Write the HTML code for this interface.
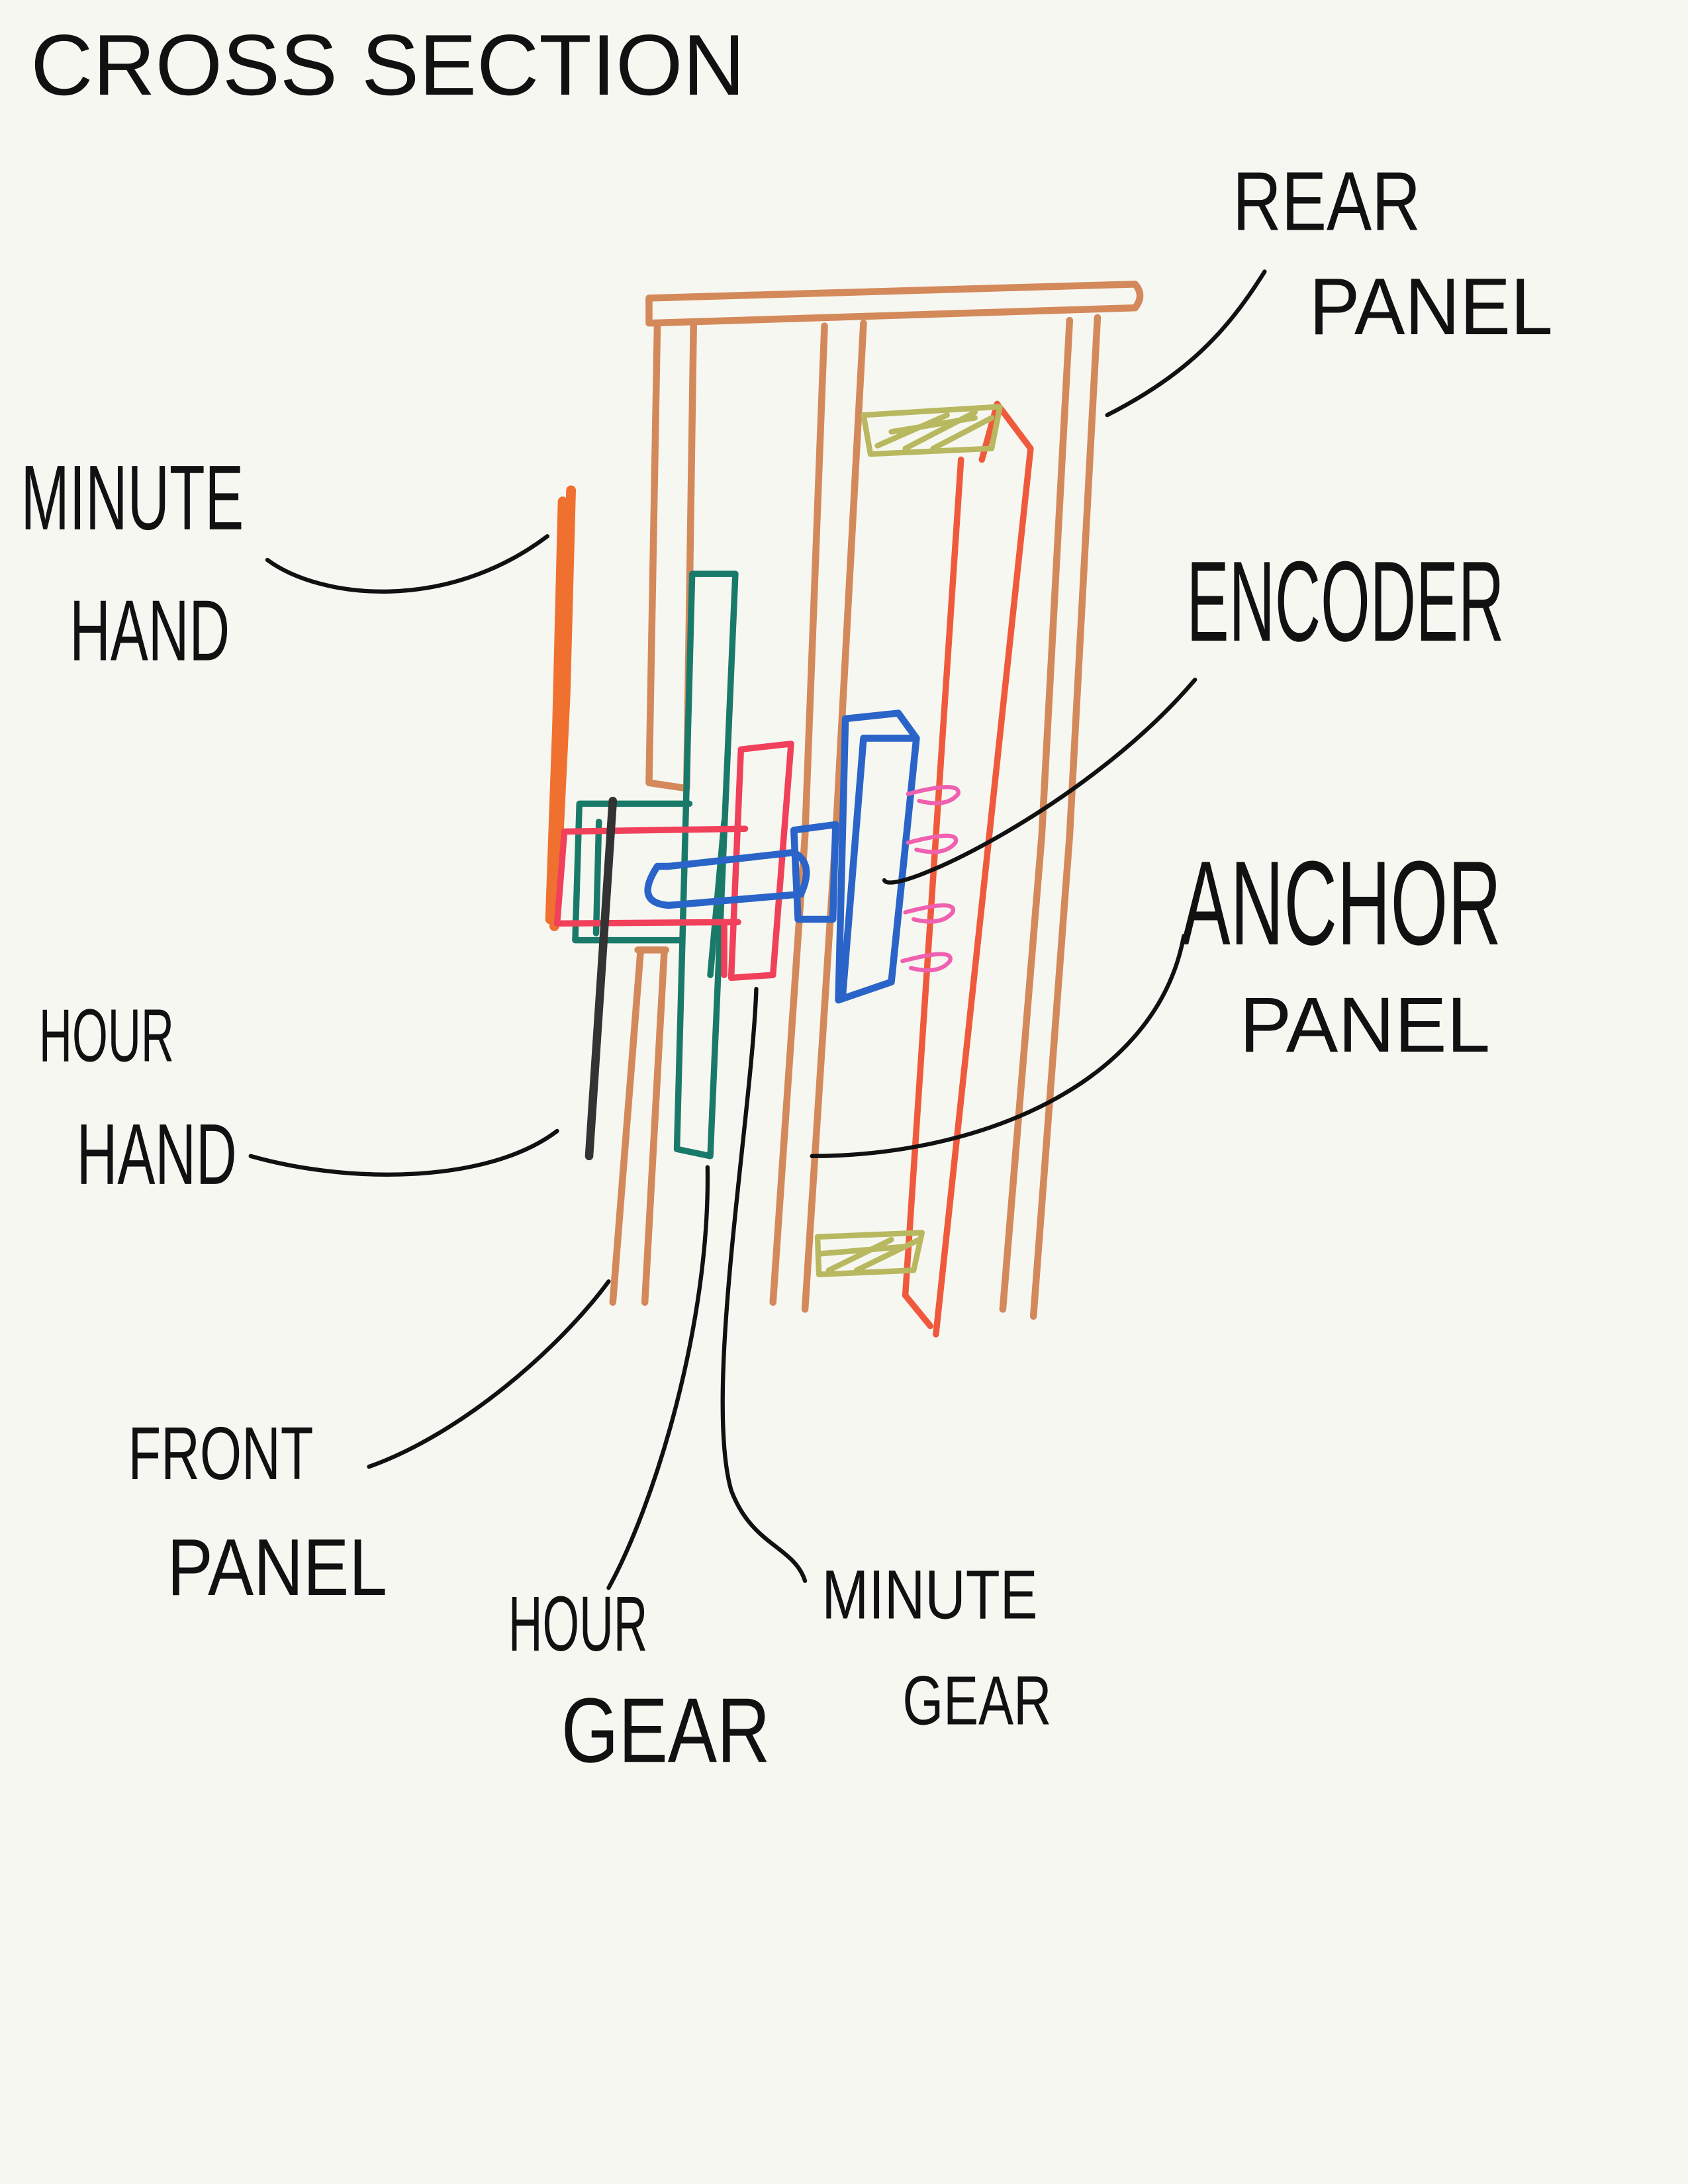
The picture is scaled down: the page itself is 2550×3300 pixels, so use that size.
<!DOCTYPE html>
<html><head><meta charset="utf-8"><style>
html,body{margin:0;padding:0;background:#f7f7f2;}
svg{display:block}
text{font-family:"Liberation Sans Narrow","Liberation Sans",sans-serif;fill:#111;}
</style></head><body>
<svg width="2550" height="3300" viewBox="0 0 1212 1568" xmlns="http://www.w3.org/2000/svg" preserveAspectRatio="none">
<rect width="1212" height="1568" fill="#f7f7f2"/>
<g fill="none" stroke-linecap="round" stroke-linejoin="round">
<!-- rear panel -->
<g stroke="#d4895a" stroke-width="5">
<path d="M466 214 L815 204 Q822 212 815 221 L466 232 Z"/>
<path d="M472 232 L466 562 L493 566 L498 232"/>
<path d="M592 234 L578 600 L555 935"/>
<path d="M620 232 L600 600 L578 940"/>
<path d="M768 230 L748 600 L720 940"/>
<path d="M788 228 L768 600 L742 945"/>
<path d="M460 682 L440 935"/>
<path d="M477 682 L463 935"/>
<path d="M458 682 L478 682"/>
</g>
<!-- green hour gear -->
<g stroke="#1a7a6a" stroke-width="4.5">
<path d="M497 412 L528 412 L510 830 L486 825 L497 412 Z"/>
<path d="M416 577 L495 577 M416 577 L413 675 L490 675 M430 590 L428 670"/>
<path d="M520 590 L510 700"/>
</g>
<!-- minute hand -->
<path d="M410 352 L406 500 L398 665 M404 360 L400 520 L395 660" stroke="#f07030" stroke-width="7"/>
<!-- red minute gear -->
<g stroke="#f0405a" stroke-width="4.5">
<path d="M405 597 L535 595 M400 663 L530 662 M405 600 L400 663"/>
<path d="M532 538 L568 534 L555 700 L525 702 L532 538 Z"/>
<path d="M520 662 L520 700"/>
</g>
<!-- blue shaft & encoder -->
<g stroke="#2a64c8" stroke-width="5">
<path d="M472 622 Q455 648 480 650 L575 642 Q585 620 570 612 L480 622 Z"/>
<path d="M570 596 L600 592 L598 660 L573 660 Z"/>
<path d="M607 516 L645 512 L658 530 L640 705 L602 718 L607 516 Z M620 530 L658 530 M620 530 L605 715"/>
</g>
<!-- anchor panel -->
<g stroke="#f05a3c" stroke-width="4.5">
<path d="M716 290 L740 322 L672 958"/>
<path d="M690 330 L650 930 L668 952"/>
<path d="M716 290 L705 330"/>
</g>
<!-- springs -->
<g stroke="#f060b0" stroke-width="3">
<path d="M652 570 Q690 560 688 570 Q680 580 660 575"/>
<path d="M652 605 Q690 595 686 605 Q678 615 658 610"/>
<path d="M650 655 Q688 645 684 655 Q676 665 656 660"/>
<path d="M648 690 Q686 680 682 690 Q674 700 654 695"/>
</g>
<!-- olive hatches -->
<g stroke="#b8b860" stroke-width="4">
<path d="M620 298 L718 292 L712 322 L625 326 Z"/>
<path d="M630 320 L680 298 M650 322 L700 296 M670 322 L712 300 M640 310 L700 300"/>
<path d="M587 888 L662 885 L656 912 L588 915 Z"/>
<path d="M595 912 L640 890 M615 912 L660 890 M590 900 L650 895"/>
</g>
<!-- hour hand -->
<path d="M440 575 L423 830" stroke="#333" stroke-width="6"/>
<!-- leader lines -->
<g stroke="#111" stroke-width="3">
<path d="M795 298 C850 270 880 240 908 195"/>
<path d="M192 402 C230 430 320 440 393 385"/>
<path d="M635 632 C640 645 780 580 858 488"/>
<path d="M583 830 C700 830 830 780 850 672"/>
<path d="M180 830 C250 850 350 850 400 812"/>
<path d="M265 1053 C330 1030 400 970 437 920"/>
<path d="M508 838 C510 950 470 1080 437 1140"/>
<path d="M543 710 C540 800 505 1000 525 1070 C540 1110 570 1110 578 1135"/>
</g>
</g>
<!-- labels -->
<text x="22" y="68" font-size="62" textLength="513" lengthAdjust="spacingAndGlyphs">CROSS SECTION</text>
<text x="885" y="165" font-size="60" textLength="135" lengthAdjust="spacingAndGlyphs">REAR</text>
<text x="940" y="240" font-size="58" textLength="175" lengthAdjust="spacingAndGlyphs">PANEL</text>
<text x="15" y="380" font-size="66" textLength="160" lengthAdjust="spacingAndGlyphs">MINUTE</text>
<text x="50" y="474" font-size="62" textLength="115" lengthAdjust="spacingAndGlyphs">HAND</text>
<text x="852" y="460" font-size="82" textLength="228" lengthAdjust="spacingAndGlyphs">ENCODER</text>
<text x="848" y="678" font-size="86" textLength="230" lengthAdjust="spacingAndGlyphs">ANCHOR</text>
<text x="890" y="755" font-size="56" textLength="180" lengthAdjust="spacingAndGlyphs">PANEL</text>
<text x="28" y="762" font-size="54" textLength="97" lengthAdjust="spacingAndGlyphs">HOUR</text>
<text x="55" y="850" font-size="62" textLength="115" lengthAdjust="spacingAndGlyphs">HAND</text>
<text x="92" y="1062" font-size="54" textLength="133" lengthAdjust="spacingAndGlyphs">FRONT</text>
<text x="120" y="1145" font-size="58" textLength="158" lengthAdjust="spacingAndGlyphs">PANEL</text>
<text x="365" y="1185" font-size="56" textLength="100" lengthAdjust="spacingAndGlyphs">HOUR</text>
<text x="403" y="1265" font-size="66" textLength="150" lengthAdjust="spacingAndGlyphs">GEAR</text>
<text x="590" y="1162" font-size="50" textLength="155" lengthAdjust="spacingAndGlyphs">MINUTE</text>
<text x="648" y="1238" font-size="50" textLength="107" lengthAdjust="spacingAndGlyphs">GEAR</text>
</svg>
</body></html>
